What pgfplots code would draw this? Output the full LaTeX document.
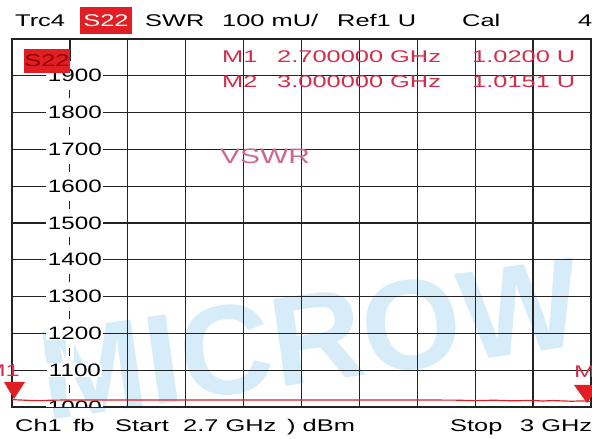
\documentclass[border=0pt]{standalone}
\usepackage{pgfplots}
\pgfplotsset{compat=1.18}
\usepackage{fontspec}
\setmainfont{Liberation Sans}
\usepackage{graphicx}
\definecolor{trc}{RGB}{225,30,35}
\definecolor{mk}{RGB}{210,45,75}
\definecolor{vs}{RGB}{205,105,140}
\definecolor{wm}{RGB}{214,236,248}
\definecolor{gr}{RGB}{35,35,35}
\newcommand\T[1]{{\fontsize{17}{17}\selectfont\scalebox{1.5}[1]{#1}}}
\newcommand\YL[1]{{\fontsize{18}{18}\selectfont\scalebox{1.35}[1]{#1}}}
\begin{document}
\begin{tikzpicture}[x=1bp,y=1bp]
\path[use as bounding box] (0,0) rectangle (592,439);
\fill[white] (0,0) rectangle (592,439);
\node[text=wm, rotate=8, inner sep=0, font=\bfseries\fontsize{128}{128}\selectfont] at (310,100) {MICROW};
\begin{axis}[at={(12bp,32bp)}, anchor=south west, scale only axis,
  width=579bp, height=368bp,
  xmin=2.7, xmax=3.0, ymin=1, ymax=2,
  xtick={2.7,2.73,2.76,2.79,2.82,2.85,2.88,2.91,2.94,2.97,3.0},
  ytick={1,1.1,1.2,1.3,1.4,1.5,1.6,1.7,1.8,1.9,2},
  xticklabels={}, yticklabels={}, major tick length=0pt,
  grid=major, major grid style={gr, line width=1.3pt},
  axis line style={gr, line width=1.4pt}]
\fill[white] (axis cs:2.7278,1.0) rectangle (axis cs:2.7322,1.94);
\draw[gr, line width=1.2pt] (axis cs:2.73,1.839) -- (axis cs:2.73,1.861);
\draw[gr, line width=1.2pt] (axis cs:2.73,1.739) -- (axis cs:2.73,1.761);
\draw[gr, line width=1.2pt] (axis cs:2.73,1.639) -- (axis cs:2.73,1.661);
\draw[gr, line width=1.2pt] (axis cs:2.73,1.539) -- (axis cs:2.73,1.561);
\draw[gr, line width=1.2pt] (axis cs:2.73,1.439) -- (axis cs:2.73,1.461);
\draw[gr, line width=1.2pt] (axis cs:2.73,1.339) -- (axis cs:2.73,1.361);
\draw[gr, line width=1.2pt] (axis cs:2.73,1.239) -- (axis cs:2.73,1.261);
\draw[gr, line width=1.2pt] (axis cs:2.73,1.139) -- (axis cs:2.73,1.161);
\draw[gr, line width=1.2pt] (axis cs:2.73,1.039) -- (axis cs:2.73,1.061);
\node[fill=white, inner xsep=1.5bp, inner ysep=0.5bp] at (axis cs:2.7326,1.9) {\YL{1900}};
\node[fill=white, inner xsep=1.5bp, inner ysep=0.5bp] at (axis cs:2.7326,1.8) {\YL{1800}};
\node[fill=white, inner xsep=1.5bp, inner ysep=0.5bp] at (axis cs:2.7326,1.7) {\YL{1700}};
\node[fill=white, inner xsep=1.5bp, inner ysep=0.5bp] at (axis cs:2.7326,1.6) {\YL{1600}};
\node[fill=white, inner xsep=1.5bp, inner ysep=0.5bp] at (axis cs:2.7326,1.5) {\YL{1500}};
\node[fill=white, inner xsep=1.5bp, inner ysep=0.5bp] at (axis cs:2.7326,1.4) {\YL{1400}};
\node[fill=white, inner xsep=1.5bp, inner ysep=0.5bp] at (axis cs:2.7326,1.3) {\YL{1300}};
\node[fill=white, inner xsep=1.5bp, inner ysep=0.5bp] at (axis cs:2.7326,1.2) {\YL{1200}};
\node[fill=white, inner xsep=1.5bp, inner ysep=0.5bp] at (axis cs:2.7326,1.1) {\YL{1100}};
\begin{scope}
\clip (axis cs:2.7,1.0) rectangle (axis cs:3.0,2.0);
\node[fill=white, inner xsep=1.5bp, inner ysep=0.5bp] at (axis cs:2.7326,1.0) {\YL{1000}};
\end{scope}
\addplot[trc, line width=1.2pt, mark=none] coordinates {
(2.700,1.0200) (2.705,1.0188) (2.710,1.0178) (2.715,1.0172) (2.720,1.0185)
(2.730,1.0190) (2.750,1.0190) (2.780,1.0191) (2.810,1.0190) (2.840,1.0190)
(2.870,1.0189) (2.900,1.0189) (2.920,1.0188) (2.930,1.0186) (2.940,1.0172)
(2.950,1.0184) (2.960,1.0168) (2.970,1.0180) (2.975,1.0162) (2.980,1.0175)
(2.990,1.0156) (2.995,1.0165) (3.000,1.0151)};
\end{axis}
% inner S22 box
\node[fill=trc, inner sep=0, minimum width=46bp, minimum height=24bp, text=red!55!black] at (47,378) {\T{S22}};
% header
\node[anchor=base west, inner sep=0] at (15,412) {\T{Trc4}};
\node[fill=trc, inner sep=0, minimum width=52bp, minimum height=27bp] at (106,418.5) {};
\node[anchor=base, inner sep=0, text=white] at (106,412) {\T{S22}};
\node[anchor=base west, inner sep=0] at (145,412) {\T{SWR}};
\node[anchor=base west, inner sep=0] at (222,412) {\T{100 mU/}};
\node[anchor=base west, inner sep=0] at (337,412) {\T{Ref1 U}};
\node[anchor=base west, inner sep=0] at (462,412) {\T{Cal}};
\node[anchor=base west, inner sep=0] at (578,412) {\T{4}};
% marker table
\node[anchor=base west, inner sep=0, text=mk] at (222,376) {\T{M1}};
\node[anchor=base west, inner sep=0, text=mk] at (277,376) {\T{2.700000 GHz}};
\node[anchor=base west, inner sep=0, text=mk] at (472,376) {\T{1.0200 U}};
\node[anchor=base west, inner sep=0, text=mk] at (222,351) {\T{M2}};
\node[anchor=base west, inner sep=0, text=mk] at (277,351) {\T{3.000000 GHz}};
\node[anchor=base west, inner sep=0, text=mk] at (472,351) {\T{1.0151 U}};
% VSWR
\node[inner sep=0, text=vs] at (265,283) {{\fontsize{21}{21}\selectfont\scalebox{1.43}[1]{VSWR}}};
% markers
\fill[trc] (4,57) -- (25,57) -- (14,40) -- cycle;
\node[anchor=base east, inner sep=0, text=mk] at (20,62) {\T{M1}};
\fill[trc] (574,54) -- (600,54) -- (587,36) -- cycle;
\node[anchor=base west, inner sep=0, text=mk] at (574,61) {\T{M}};
% footer
\node[anchor=base west, inner sep=0] at (15,7) {\T{Ch1}};
\node[anchor=base west, inner sep=0] at (73,7) {\T{fb}};
\node[anchor=base west, inner sep=0] at (115,7) {\T{Start}};
\node[anchor=base west, inner sep=0] at (183,7) {\T{2.7 GHz}};
\node[anchor=base west, inner sep=0] at (287,7) {\T{) dBm}};
\node[anchor=base west, inner sep=0] at (450,7) {\T{Stop}};
\node[anchor=base west, inner sep=0] at (520,7) {\T{3 GHz}};
\end{tikzpicture}
\end{document}
